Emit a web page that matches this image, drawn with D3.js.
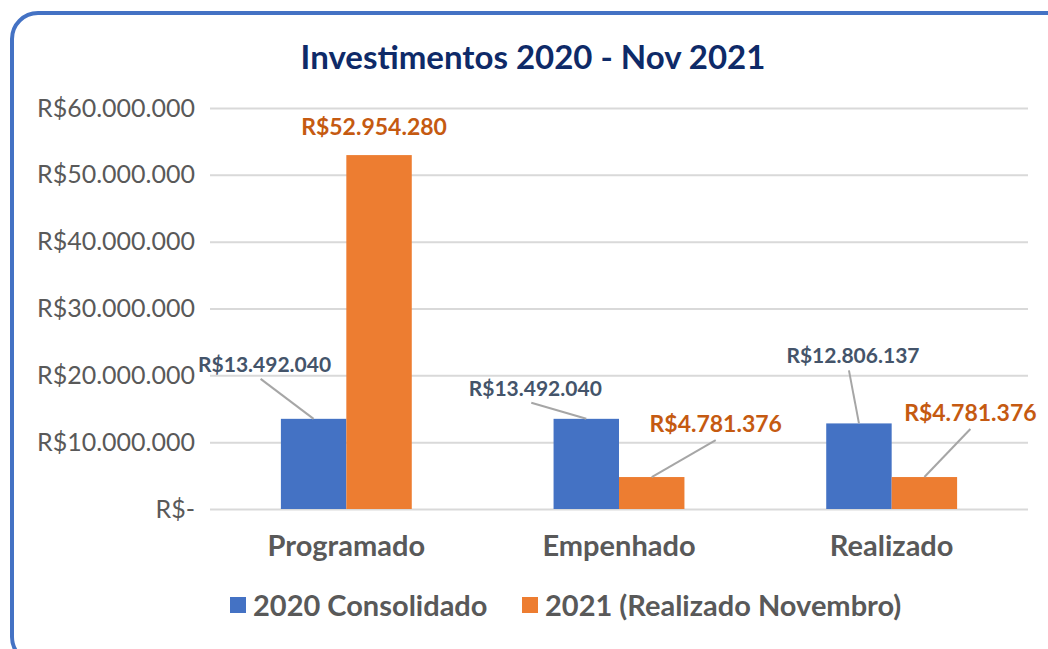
<!DOCTYPE html>
<html>
<head>
<meta charset="utf-8">
<script src="https://cdn.jsdelivr.net/npm/d3@7"></script>
<style>
  html, body { margin: 0; padding: 0; background: #fff; }
  svg { display: block; font-family: Lato, 'Open Sans', sans-serif; }
</style>
</head>
<body>
<svg id="chart" width="1048" height="649"></svg>
<script>
const categories = ['Programado', 'Empenhado', 'Realizado']
const seriesNames = ['2020 Consolidado', '2021 (Realizado Novembro)']
const values2020 = [13492040, 13492040, 12806137]
const values2021 = [52954280, 4781376, 4781376]
const yTicks = [0, 10000000, 20000000, 30000000, 40000000, 50000000, 60000000]

const colors = ['#4472C4', '#ED7D31']
const labelColors = ['#44546A', '#C55A11']
const labelSizes = [21, 23]
// label placement (pixel offsets of the label baseline from bar top centre)
const labelOffsets = [
  [[-49, -47], [-5, -20]],
  [[-51, -23], [64, -45]],
  [[-6, -60], [46, -56]]
]

const width = 1048
const height = 649
const margin = { top: 108, right: 20, bottom: 140, left: 210 }

const svg = d3.select('#chart')

svg.append('rect')
  .attr('x', 12).attr('y', 13)
  .attr('width', 1060).attr('height', 650)
  .attr('rx', 26).attr('ry', 26)
  .attr('fill', '#fff')
  .attr('stroke', '#4472C4')
  .attr('stroke-width', 4)

svg.append('text')
  .attr('x', 533).attr('y', 69)
  .attr('text-anchor', 'middle')
  .attr('font-size', 33)
  .attr('font-weight', 'bold')
  .attr('fill', '#0E2A68')
  .text('Investimentos 2020 - Nov 2021')

const x0 = d3.scaleBand()
  .domain(categories)
  .range([margin.left, width - margin.right])
  .paddingInner(0.52)
  .paddingOuter(0.26)

const x1 = d3.scaleBand()
  .domain([0, 1])
  .range([0, x0.bandwidth()])

const y = d3.scaleLinear()
  .domain([0, 60000000])
  .range([height - margin.bottom, margin.top])

const fmt = v => v === 0 ? 'R$-' : 'R$' + d3.format(',')(v).replace(/,/g, '.')

const yAxis = d3.axisLeft(y)
  .tickValues(yTicks)
  .tickSize(-(width - margin.left - margin.right))
  .tickPadding(15)
  .tickFormat(fmt)

const gy = svg.append('g')
  .attr('transform', `translate(${margin.left},0)`)
  .call(yAxis)
gy.select('.domain').remove()
gy.selectAll('.tick line').attr('stroke', '#D9D9D9').attr('stroke-width', 2)
gy.selectAll('.tick text')
  .attr('fill', '#595959')
  .attr('font-size', 25)
  .attr('font-family', 'Lato, sans-serif')

const xAxis = d3.axisBottom(x0).tickSize(0).tickPadding(26)
const gx = svg.append('g')
  .attr('transform', `translate(0,${height - margin.bottom})`)
  .call(xAxis)
gx.select('.domain').remove()
gx.selectAll('.tick text')
  .attr('fill', '#595959')
  .attr('font-size', 29)
  .attr('font-weight', 'bold')
  .attr('font-family', 'Lato, sans-serif')

const rows = categories.map((c, i) => ({ cat: c, i, vals: [values2020[i], values2021[i]] }))

const groups = svg.append('g').selectAll('g')
  .data(rows)
  .join('g')
  .attr('transform', d => `translate(${x0(d.cat)},0)`)

groups.selectAll('rect')
  .data(d => d.vals.map((v, s) => ({ v, s })))
  .join('rect')
  .attr('x', d => x1(d.s))
  .attr('y', d => y(d.v))
  .attr('width', x1.bandwidth())
  .attr('height', d => y(0) - y(d.v))
  .attr('fill', d => colors[d.s])

// data labels with leader lines
const labels = svg.append('g')
rows.forEach(r => {
  r.vals.forEach((v, s) => {
    const bx = x0(r.cat) + x1(s) + x1.bandwidth() / 2
    const by = y(v)
    const [dx, dy] = labelOffsets[r.i][s]
    const t = labels.append('text')
      .attr('x', bx + dx).attr('y', by + dy)
      .attr('text-anchor', 'middle')
      .attr('font-size', labelSizes[s])
      .attr('font-weight', 'bold')
      .attr('fill', labelColors[s])
      .text(fmt(v))
    if (Math.hypot(dx, dy) > 30) {
      const box = t.node().getBBox()
      const sx = bx + dx + (dx > 0 ? 0 : -4)
      labels.append('line')
        .attr('x1', sx)
        .attr('y1', box.y + box.height + 3)
        .attr('x2', bx)
        .attr('y2', by)
        .attr('stroke', '#A6A6A6')
        .attr('stroke-width', 2)
    }
  })
})

// legend
const legend = svg.append('g').attr('transform', 'translate(230,605)')
const legX = [0, 292]
seriesNames.forEach((n, s) => {
  legend.append('rect')
    .attr('x', legX[s]).attr('y', -8)
    .attr('width', 16).attr('height', 16)
    .attr('fill', colors[s])
  legend.append('text')
    .attr('x', legX[s] + 23).attr('y', 1)
    .attr('dy', '0.35em')
    .attr('font-size', 29)
    .attr('font-weight', 'bold')
    .attr('fill', '#595959')
    .text(n)
})
</script>
</body>
</html>
